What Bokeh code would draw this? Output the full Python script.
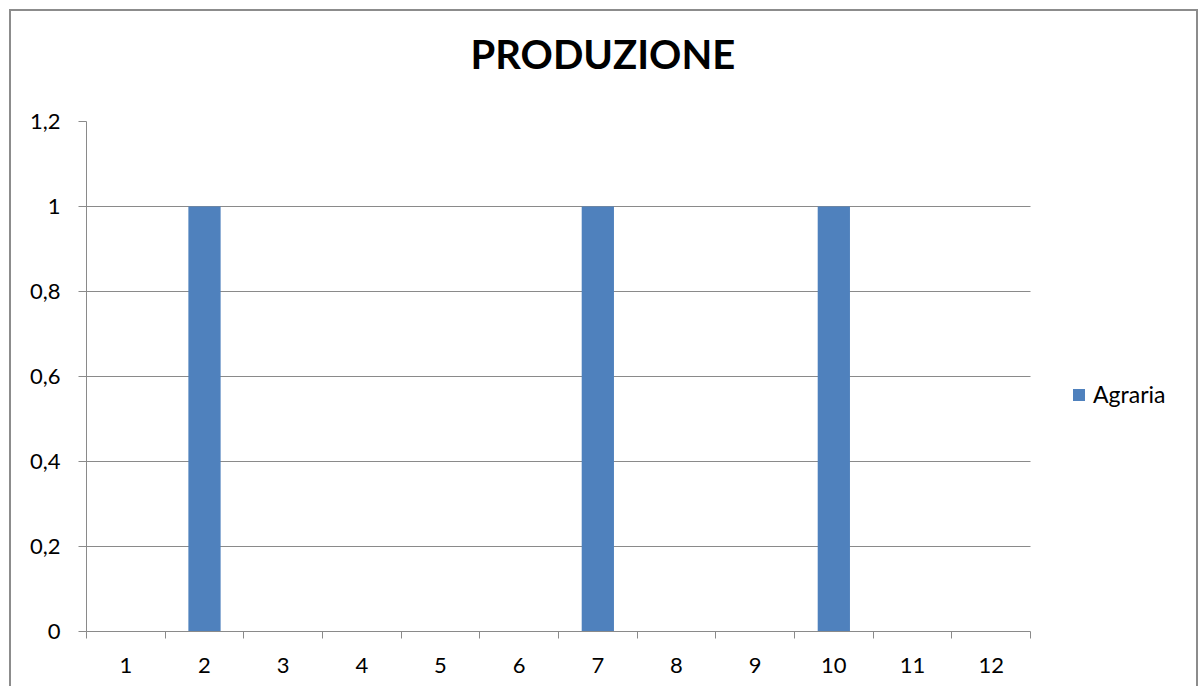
from bokeh.plotting import figure
from bokeh.models import (ColumnDataSource, FixedTicker, Range1d, Legend, LegendItem, Title)
from bokeh.embed import file_html
from bokeh.resources import INLINE

# ---- data ----
categories = [1, 2, 3, 4, 5, 6, 7, 8, 9, 10, 11, 12]
agraria = [0, 1, 0, 0, 0, 0, 1, 0, 0, 1, 0, 0]
y_ticks = [0, 0.2, 0.4, 0.6, 0.8, 1.0, 1.2]
y_tick_labels = ["0", "0,2", "0,4", "0,6", "0,8", "1", "1,2"]
x_tick_labels = [str(c) for c in categories]
title_text = "PRODUZIONE"
series_name = "Agraria"

FONT = "Lato"
GRID = "#8a8a8a"
BAR = "#4f81bd"

# layout (pixels)
PLOT_W = 944          # width taken by the 12 categories
LEGEND_W = 166        # free area right of the categories, holding the legend
n = len(categories)
x_start = categories[0] - 0.5
x_end_cat = categories[-1] + 0.5
x_end = x_end_cat + LEGEND_W / (PLOT_W / n)

p = figure(frame_width=PLOT_W + LEGEND_W, frame_height=510, output_backend="svg",
           toolbar_location=None,
           x_range=Range1d(x_start, x_end), y_range=Range1d(0, 1.2),
           min_border_left=75, min_border_right=0, min_border_top=110,
           min_border_bottom=55,
           styles={"margin": "9px 0 0 9px", "border": "2px solid #8c8c8c",
                   "border-bottom": "none"})
p.outline_line_color = None
p.background_fill_color = "white"
p.border_fill_color = "white"

src = ColumnDataSource(dict(x=categories, top=agraria))
r = p.vbar(x="x", top="top", width=0.41, source=src, fill_color=BAR, line_color=None)

# x axis: labels at category centres, ticks at category boundaries
p.xaxis.ticker = FixedTicker(ticks=categories,
                             minor_ticks=[c - 0.5 for c in categories] + [x_end_cat])
p.xaxis.bounds = (x_start, x_end_cat)
p.xaxis.major_label_overrides = {c: l for c, l in zip(categories, x_tick_labels)}
p.xaxis.major_tick_out = 0
p.xaxis.major_tick_in = 0
p.xaxis.minor_tick_out = 7
p.xaxis.minor_tick_in = 0
p.xaxis.minor_tick_line_color = GRID
p.xaxis.axis_line_color = GRID
p.xaxis.major_label_standoff = 19
p.xaxis.major_label_text_font = FONT
p.xaxis.major_label_text_font_size = "22px"
p.xaxis.major_label_text_color = "black"
p.xgrid.grid_line_color = None

p.yaxis.ticker = FixedTicker(ticks=y_ticks)
p.yaxis.major_label_overrides = {t: l for t, l in zip(y_ticks, y_tick_labels)}
p.yaxis.major_tick_out = 8
p.yaxis.major_tick_in = 0
p.yaxis.minor_tick_out = 0
p.yaxis.minor_tick_in = 0
p.yaxis.major_tick_line_color = GRID
p.yaxis.axis_line_color = GRID
p.yaxis.major_label_standoff = 18
p.yaxis.major_label_text_font = FONT
p.yaxis.major_label_text_font_size = "22px"
p.yaxis.major_label_text_color = "black"

try:
    p.ygrid.cross_bounds = (x_start, x_end_cat)
    p.ygrid.grid_line_color = GRID
    p.ygrid.grid_line_width = 1
except AttributeError:
    p.ygrid.grid_line_color = None
    p.segment(x0=[x_start] * len(y_ticks), x1=[x_end_cat] * len(y_ticks),
              y0=y_ticks, y1=y_ticks, line_color=GRID, line_width=1, level="underlay")

legend = Legend(items=[LegendItem(label=series_name, renderers=[r])],
                location=(PLOT_W + 41, 223), glyph_width=15, glyph_height=15,
                label_standoff=7, label_text_font=FONT, label_text_font_size="23px",
                label_text_color="black",
                border_line_alpha=0, background_fill_alpha=0, padding=0, margin=0)
p.add_layout(legend)

spacer = Title(text=" ", text_font_size="1px", standoff=41)
p.add_layout(spacer, "above")
title = Title(text=title_text, align="left", offset=384, standoff=0,
              text_font=FONT, text_font_style="bold", text_font_size="40px",
              text_color="black")
p.add_layout(title, "above")

open("out.html", "w").write(file_html(p, INLINE))
